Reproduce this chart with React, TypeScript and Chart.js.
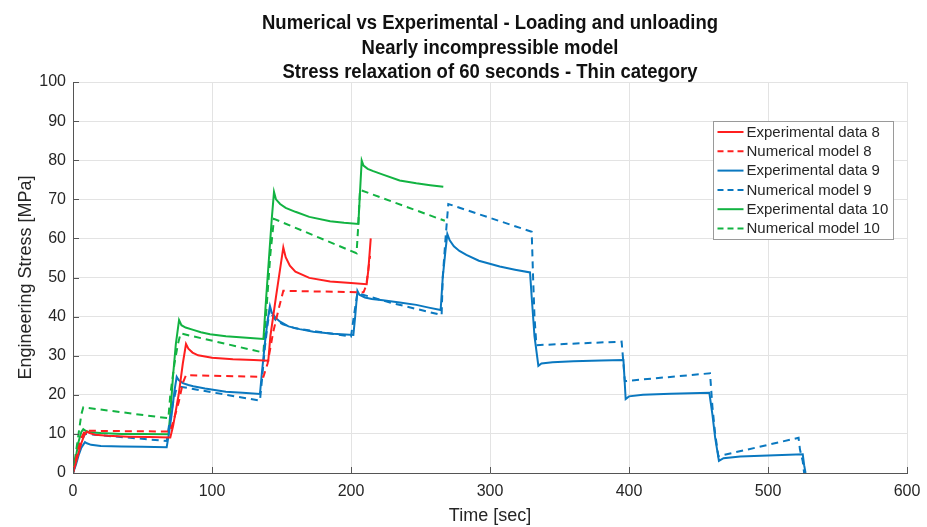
import React, { useEffect, useRef } from "react";
import { Chart, registerables } from "chart.js";

Chart.register(...registerables);

type P = { x: number; y: number };

const titleLines = [
  "Numerical vs Experimental - Loading and unloading",
  "Nearly incompressible model",
  "Stress relaxation of 60 seconds - Thin category",
];
const xAxisTitle = "Time [sec]";
const yAxisTitle = "Engineering Stress [MPa]";
const xTicks = [0, 100, 200, 300, 400, 500, 600];
const yTicks = [0, 10, 20, 30, 40, 50, 60, 70, 80, 90, 100];

const seriesLabels = [
  "Experimental data 8",
  "Numerical model 8",
  "Experimental data 9",
  "Numerical model 9",
  "Experimental data 10",
  "Numerical model 10",
];

// [time, stress] pairs
const exp8: number[][] = [
  [0, 0], [2, 2.6], [4, 5.2], [6, 7.6], [8, 9.6], [10, 10.6], [12, 10.2], [16, 9.8], [25, 9.5], [40, 9.3], [55, 9.2], [70, 9.1],
  [72, 12], [76, 20], [79, 28], [81.3, 33], [83, 31.8], [86, 30.8], [90, 30.1], [100, 29.5], [115, 29.1], [130, 28.9], [140.5, 28.7],
  [142, 35], [146, 45], [151.3, 57.7], [153, 55.2], [156, 53], [160, 51.5], [170, 49.9], [185, 49], [200, 48.6], [211.3, 48.3],
  [212.5, 52], [214.2, 60],
];
const num8: number[][] = [
  [0, 0], [3, 5], [6, 9], [8.6, 10.8], [69.8, 10.6],
  [72, 13], [76, 18], [79, 23], [81.3, 25], [137, 24.6],
  [140, 28], [144, 36], [148, 42], [151.3, 46.6], [209, 46.2],
  [211, 48], [213.7, 55.5],
];
const exp9: number[][] = [
  [0, 0], [2, 2], [4, 4.5], [6, 6.5], [8.6, 7.9], [10, 7.6], [13, 7.2], [20, 6.9], [35, 6.75], [50, 6.7], [67.4, 6.6],
  [69, 10], [71, 15], [73, 21], [74.6, 24.6], [76, 23.8], [79, 23], [83, 22.5], [86.5, 22.2], [95, 21.6], [110, 20.8], [122, 20.5], [134.5, 20.2],
  [136, 26], [138, 33], [140, 39], [141.7, 42.7], [143, 41], [146, 39.6], [149, 38.7], [155, 37.5], [163, 36.8], [173, 36.1], [187, 35.6], [201.7, 35.3],
  [203, 40], [204.6, 46.6], [206, 45.6], [210, 44.9], [215, 44.5], [223, 44.2], [235, 43.6], [247, 43], [256, 42.3], [264.5, 41.7],
  [266, 50], [268, 57], [269.3, 61.1], [271, 59.5], [274, 58], [278, 56.8], [283, 55.8], [292, 54.3], [307, 52.8], [318, 52], [328.8, 51.3],
  [330, 45], [332, 35], [334.8, 27.4], [337, 28], [345, 28.3], [360, 28.6], [380, 28.8], [396, 28.9],
  [397.6, 18.9], [400, 19.6], [410, 20], [430, 20.3], [457.8, 20.5],
  [460, 15], [462, 9], [464.7, 3.1], [468, 3.8], [480, 4.2], [500, 4.5], [525, 4.8],
  [526, 2], [527, 0],
];
const num9: number[][] = [
  [0, 0], [3, 4], [6, 8], [8.6, 10], [67.4, 8.2],
  [69, 12], [72, 18], [74, 21], [76.7, 22.1], [134.5, 18.5],
  [136, 24], [138, 32], [140, 38], [141.7, 42], [143, 40.5], [146, 39], [151, 38], [160, 37], [175, 36.2], [190, 35.4], [200, 34.9],
  [202, 40], [204.6, 46], [228, 43.6], [265.2, 40.4],
  [266, 50], [268, 60], [270, 68.8], [330, 61.7],
  [331, 50], [332, 40], [333.4, 32.7], [394.7, 33.6],
  [396, 28], [397, 23.5], [458.3, 25.5],
  [460, 17], [462, 10], [464.3, 4.3], [522, 9],
  [523, 6], [525, 3], [526, 0],
];
const exp10: number[][] = [
  [0, 0], [2, 4], [4, 8], [6, 10.5], [7.4, 11.2], [9, 10.8], [12, 10.4], [20, 10.2], [35, 10], [50, 9.95], [68.6, 9.9],
  [70, 15], [72, 25], [74, 33], [76.3, 39.1], [78, 37.8], [81, 37.2], [86.5, 36.6], [92, 36], [98.6, 35.5], [110, 35], [125, 34.6], [137, 34.3],
  [139, 45], [141, 55], [143, 65], [144.6, 71.9], [146, 70], [149, 68.8], [153, 67.8], [160, 66.8], [170, 65.5], [185, 64.4], [195, 64], [205.3, 63.7],
  [206.5, 72], [207.7, 79.9], [209, 78.6], [212, 77.8], [216, 77.2], [223, 76.3], [235, 74.8], [247, 74.1], [257, 73.6], [266.4, 73.2],
];
const num10: number[][] = [
  [0, 0], [2, 5], [4, 10], [6, 15], [7.4, 16.8], [68.6, 14],
  [70, 20], [73, 28], [75.5, 33], [77.4, 35.7], [137, 30.8],
  [138, 36], [140, 46], [142, 56], [144.6, 65], [204, 56.2],
  [205, 62], [206.5, 72.4], [267.5, 64.5],
];

const seriesData = [exp8, num8, exp9, num9, exp10, num10];
const seriesColors = ["#ff1f1f", "#ff1f1f", "#0a78c0", "#0a78c0", "#12b342", "#12b342"];
const seriesDashed = [false, true, false, true, false, true];

const FONT = "'Liberation Sans', Arial, Helvetica, sans-serif";
const TEXT = "#262626";

const decorPlugin = {
  id: "decor",
  afterDraw(chart: any) {
    const ctx = chart.ctx as CanvasRenderingContext2D;
    const area = chart.chartArea;
    ctx.save();
    // title (slightly condensed, like the original's bold face)
    ctx.fillStyle = "#111";
    ctx.font = `bold 19.5px ${FONT}`;
    ctx.textAlign = "center";
    ctx.textBaseline = "alphabetic";
    const cx = (area.left + area.right) / 2;
    const w0 = ctx.measureText(titleLines[0]).width;
    const sx = Math.min(1, 456 / w0);
    const baselines = [29, 53.5, 78];
    titleLines.forEach((t, i) => {
      ctx.save();
      ctx.translate(cx, baselines[i]);
      ctx.scale(sx, 1);
      ctx.fillText(t, 0, 0);
      ctx.restore();
    });

    // inward ticks
    ctx.strokeStyle = "#555";
    ctx.lineWidth = 1;
    const xs = chart.scales.x;
    const ys = chart.scales.y;
    ctx.beginPath();
    xTicks.forEach((v) => {
      const px = Math.round(xs.getPixelForValue(v)) + 0.5;
      ctx.moveTo(px, area.bottom);
      ctx.lineTo(px, area.bottom - 6);
    });
    yTicks.forEach((v) => {
      const py = Math.round(ys.getPixelForValue(v)) + 0.5;
      ctx.moveTo(area.left, py);
      ctx.lineTo(area.left + 6, py);
    });
    ctx.stroke();

    // legend
    const lx = 713.5, ly = 121.5, lw = 180, lh = 118;
    ctx.fillStyle = "#ffffff";
    ctx.fillRect(lx, ly, lw, lh);
    ctx.strokeStyle = "#9a9a9a";
    ctx.strokeRect(lx, ly, lw, lh);
    ctx.font = `15px ${FONT}`;
    ctx.textAlign = "left";
    ctx.textBaseline = "middle";
    seriesLabels.forEach((lab, i) => {
      const y = ly + 10.5 + i * 19.3;
      ctx.strokeStyle = seriesColors[i];
      ctx.lineWidth = 2;
      ctx.setLineDash(seriesDashed[i] ? [6, 4] : []);
      ctx.beginPath();
      ctx.moveTo(lx + 4, y);
      ctx.lineTo(lx + 30, y);
      ctx.stroke();
      ctx.setLineDash([]);
      ctx.fillStyle = TEXT;
      ctx.fillText(lab, lx + 33, y + 0.5);
    });
    ctx.restore();
  },
};

export default function App() {
  const ref = useRef<HTMLCanvasElement | null>(null);
  useEffect(() => {
    if (!ref.current) return;
    const chart = new Chart(ref.current, {
      type: "line",
      data: {
        datasets: seriesData.map((d, i) => ({
          label: seriesLabels[i],
          data: d.map(([x, y]) => ({ x, y })) as P[],
          borderColor: seriesColors[i],
          backgroundColor: seriesColors[i],
          borderWidth: 2,
          borderDash: seriesDashed[i] ? [7, 5] : [],
          pointRadius: 0,
          tension: 0,
          fill: false,
        })),
      },
      options: {
        animation: false,
        responsive: false,
        devicePixelRatio: 1,
        layout: { padding: { top: 82, right: 20, left: 0, bottom: 0 } },
        plugins: {
          legend: { display: false },
          title: { display: false },
          tooltip: { enabled: false },
        },
        scales: {
          x: {
            type: "linear",
            min: 0,
            max: 600,
            afterFit: (s: any) => { s.height = 54; s.paddingRight = 0; },
            afterBuildTicks: (s: any) => { s.ticks = xTicks.map((v) => ({ value: v })); },
            ticks: { color: TEXT, font: { size: 16, family: FONT }, padding: 9, maxRotation: 0 },
            grid: { color: "#e3e3e3", drawTicks: false },
            border: { color: "#555", width: 1 },
            title: { display: true, text: xAxisTitle, color: TEXT, font: { size: 18, family: FONT }, padding: { top: 1, bottom: 0 } },
          },
          y: {
            type: "linear",
            min: 0,
            max: 100,
            afterFit: (s: any) => { s.width = 73; },
            afterBuildTicks: (s: any) => { s.ticks = yTicks.map((v) => ({ value: v })); },
            ticks: { color: TEXT, font: { size: 16, family: FONT }, padding: 7 },
            grid: { color: "#e3e3e3", drawTicks: false },
            border: { color: "#555", width: 1 },
            title: { display: true, text: yAxisTitle, color: TEXT, font: { size: 18, family: FONT }, padding: { top: 15, bottom: 0 } },
          },
        },
      },
      plugins: [decorPlugin],
    });
    return () => chart.destroy();
  }, []);
  return (
    <div style={{ position: "fixed", left: 0, top: 0, width: 927, height: 527, background: "#fff" }}>
      <canvas ref={ref} width={927} height={527} style={{ width: 927, height: 527 }} />
    </div>
  );
}
